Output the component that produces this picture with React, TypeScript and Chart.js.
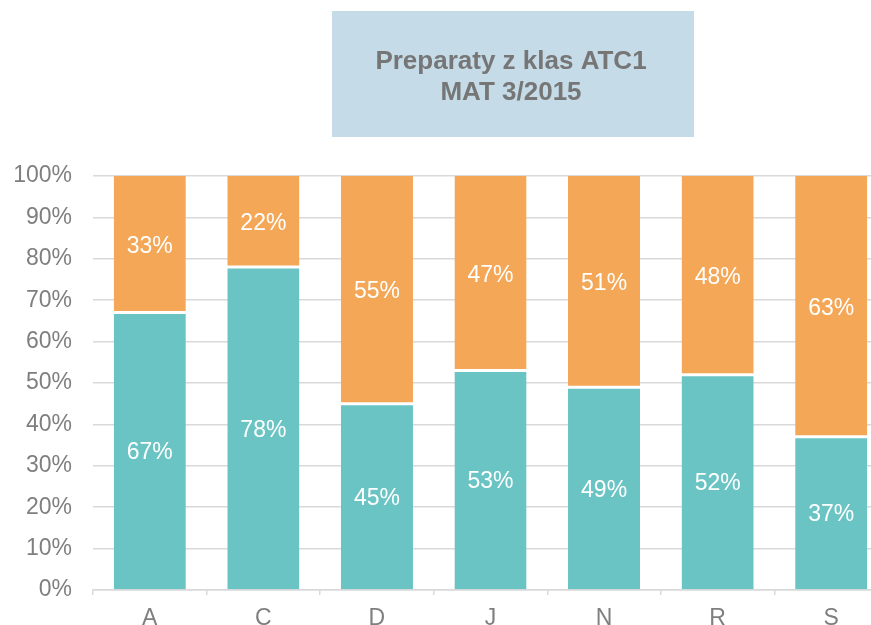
import React, { useEffect, useRef } from "react";
import { Chart, registerables } from "chart.js";

Chart.register(...registerables);

const categories = ["A", "C", "D", "J", "N", "R", "S"];
const tealValues = [67, 78, 45, 53, 49, 52, 37];
const orangeValues = [33, 22, 55, 47, 51, 48, 63];
const titleLines = ["Preparaty z klas ATC1", "MAT 3/2015"];

const FONT = "Arial, 'Liberation Sans', sans-serif";

const titleBoxPlugin = {
  id: "titleBox",
  beforeDraw(chart: any) {
    const ctx = chart.ctx;
    ctx.save();
    ctx.fillStyle = "#c5dbe7";
    ctx.fillRect(332, 11, 362, 126);
    ctx.fillStyle = "#767676";
    ctx.font = `bold 26px ${FONT}`;
    ctx.textAlign = "center";
    ctx.textBaseline = "middle";
    ctx.fillText(titleLines[0], 511, 62);
    ctx.fillText(titleLines[1], 511, 93);
    ctx.restore();
  },
};

const labelPlugin = {
  id: "segLabels",
  afterDatasetsDraw(chart: any) {
    const ctx = chart.ctx;
    ctx.save();
    ctx.fillStyle = "#ffffff";
    ctx.font = `23px ${FONT}`;
    ctx.textAlign = "center";
    ctx.textBaseline = "middle";
    chart.data.datasets.forEach((ds: any, i: number) => {
      const meta = chart.getDatasetMeta(i);
      meta.data.forEach((el: any, j: number) => {
        const y = (el.y + el.base) / 2 + 2;
        ctx.fillText(ds.data[j] + "%", el.x, y);
      });
    });
    ctx.restore();
  },
};

export default function App() {
  const ref = useRef<HTMLCanvasElement>(null);
  useEffect(() => {
    if (!ref.current) return;
    const chart = new Chart(ref.current, {
      type: "bar",
      data: {
        labels: categories,
        datasets: [
          {
            data: tealValues,
            backgroundColor: "#6bc4c4",
            borderColor: "#ffffff",
            borderWidth: { top: 1.5, bottom: 0, left: 0, right: 0 },
            borderSkipped: false,
            barPercentage: 0.635,
            categoryPercentage: 1,
          },
          {
            data: orangeValues,
            backgroundColor: "#f4a756",
            borderColor: "#ffffff",
            borderWidth: { top: 0, bottom: 1.5, left: 0, right: 0 },
            borderSkipped: false,
            barPercentage: 0.635,
            categoryPercentage: 1,
          },
        ],
      },
      plugins: [titleBoxPlugin, labelPlugin],
      options: {
        animation: false,
        responsive: false,
        maintainAspectRatio: false,
        layout: { padding: { top: 176, left: 0, right: 12, bottom: 0 } },
        plugins: {
          legend: { display: false },
          tooltip: { enabled: false },
          title: { display: false },
        },
        scales: {
          x: {
            stacked: true,
            afterFit: (s: any) => {
              s.height = 35;
            },
            grid: {
              display: true,
              drawOnChartArea: false,
              drawTicks: true,
              tickLength: 5,
              color: "#d9d9d9",
              lineWidth: 1.5,
            },
            border: { display: true, color: "#d9d9d9", width: 1.5 },
            ticks: {
              color: "#7f7f7f",
              font: { family: FONT, size: 23 },
              padding: 10,
            },
          },
          y: {
            stacked: true,
            min: 0,
            max: 100,
            afterFit: (s: any) => {
              s.width = 93;
            },
            grid: {
              color: "#d9d9d9",
              lineWidth: 1.5,
              drawTicks: false,
            },
            border: { display: false },
            ticks: {
              stepSize: 10,
              color: "#7f7f7f",
              font: { family: FONT, size: 23 },
              padding: 21,
              callback: (v: any) => v + "%",
            },
          },
        },
      },
    });
    return () => chart.destroy();
  }, []);
  return (
    <div
      style={{
        position: "fixed",
        left: 0,
        top: 0,
        width: 871,
        height: 625,
        overflow: "hidden",
        background: "#fff",
      }}
    >
      <canvas ref={ref} width={900} height={625} style={{ display: "block", width: 900, height: 625 }} />
    </div>
  );
}
